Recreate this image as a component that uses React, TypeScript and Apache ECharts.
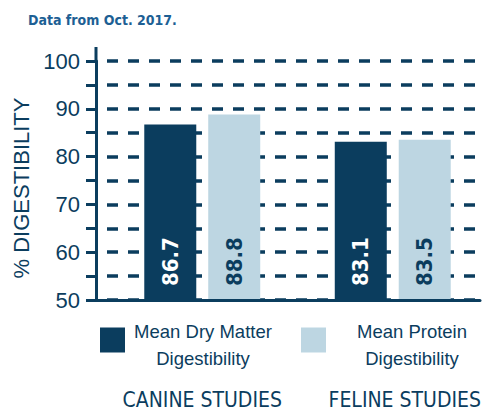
import React, { useEffect, useRef } from "react";
import * as echarts from "echarts";

const categories = ["CANINE STUDIES", "FELINE STUDIES"];
const seriesNames = ["Mean Dry Matter\nDigestibility", "Mean Protein\nDigestibility"];
const dryMatter = [86.7, 83.1];
const protein = [88.8, 83.5];
const yMin = 50;
const yMax = 100;
const yStep = 5;

const DARK = "#0b3d5e";
const LIGHT = "#bdd6e2";
const NARROW = "'DejaVu Sans Condensed', 'Liberation Sans Narrow', sans-serif";
const SANS = "'Liberation Sans', Arial, sans-serif";

export default function App() {
  const ref = useRef<HTMLDivElement>(null);
  useEffect(() => {
    if (!ref.current) return;
    const chart = echarts.init(ref.current, undefined, { renderer: "svg" });
    const barLabel = (color: string) => ({
      show: true,
      position: "insideBottom",
      rotate: 90,
      align: "left",
      verticalAlign: "middle",
      distance: 14,
      formatter: (p: any) => String(p.value),
      color,
      fontFamily: NARROW,
      fontWeight: "bold",
      fontSize: 22,
    });
    chart.setOption({
      animation: false,
      title: {
        text: "Data from Oct. 2017.",
        left: 28,
        top: 13,
        padding: 0,
        textStyle: { color: "#1d5f94", fontFamily: NARROW, fontSize: 14, fontWeight: "bold" },
      },
      graphic: [
        {
          type: "line",
          shape: { x1: 96, y1: 47, x2: 96, y2: 62 },
          style: { stroke: DARK, lineWidth: 3 },
          z: 10,
        },
      ],
      legend: {
        left: 100,
        top: 322,
        width: 420,
        padding: 0,
        itemWidth: 25,
        itemHeight: 25,
        itemGap: 25,
        icon: "rect",
        data: seriesNames,
        formatter: (name: string) => {
          const key = name === seriesNames[0] ? "a" : "b";
          return name
            .split("\n")
            .map((l) => `{${key}|${l}}`)
            .join("\n");
        },
        textStyle: {
          padding: [10, 0, 0, 0],
          rich: {
            a: { width: 146, align: "center", fontFamily: SANS, fontSize: 18.5, lineHeight: 27, color: DARK },
            b: { width: 162, align: "center", fontFamily: SANS, fontSize: 18.5, lineHeight: 27, color: DARK },
          },
        },
      },
      grid: [
        { left: 96, width: 384, top: 61, bottom: 112 },
        { left: 107, width: 386, top: 61, bottom: 112 },
      ],
      xAxis: [
        {
          type: "category",
          gridIndex: 0,
          data: categories,
          axisLine: { show: true, lineStyle: { color: DARK, width: 3 } },
          axisTick: { show: false },
          axisLabel: { show: false },
          splitLine: { show: false },
          z: 5,
        },
        {
          type: "category",
          gridIndex: 1,
          data: categories,
          axisLine: { show: false },
          axisTick: { show: false },
          axisLabel: {
            margin: 89,
            formatter: (v: string) => (v === categories[0] ? `{a|${v}}` : `{b|${v}}`),
            rich: {
              a: { fontFamily: NARROW, fontSize: 21, color: DARK },
              b: { fontFamily: NARROW, fontSize: 21, color: DARK, padding: [0, 0, 0, 24] },
            },
          },
        },
      ],
      yAxis: [
        {
          type: "value",
          gridIndex: 0,
          min: yMin,
          max: yMax,
          interval: yStep,
          name: "% DIGESTIBILITY",
          nameLocation: "middle",
          nameGap: 51,
          nameTextStyle: { fontFamily: SANS, fontSize: 22, color: DARK, padding: [0, 15, 0, 0] },
          axisLine: { show: true, lineStyle: { color: DARK, width: 3 } },
          axisTick: { show: true, length: 10, lineStyle: { color: DARK, width: 3 } },
          axisLabel: {
            margin: 16,
            fontFamily: SANS,
            fontSize: 22,
            color: DARK,
            formatter: (v: number) => (v % 10 === 0 ? String(v) : ""),
          },
          splitLine: {
            show: true,
            lineStyle: { color: DARK, width: 3.5, type: [11, 10], dashOffset: 10 },
          },
        },
        {
          type: "value",
          gridIndex: 1,
          min: yMin,
          max: yMax,
          interval: yStep,
          show: false,
          splitLine: { show: false },
        },
      ],
      series: [
        {
          name: seriesNames[0],
          type: "bar",
          xAxisIndex: 1,
          yAxisIndex: 1,
          data: dryMatter,
          barWidth: 52,
          barGap: "23%",
          itemStyle: { color: DARK },
          label: barLabel("#ffffff"),
          z: 3,
        },
        {
          name: seriesNames[1],
          type: "bar",
          xAxisIndex: 1,
          yAxisIndex: 1,
          data: protein,
          barWidth: 52,
          barGap: "23%",
          itemStyle: { color: LIGHT },
          label: barLabel(DARK),
          z: 3,
        },
      ],
    });
    return () => chart.dispose();
  }, []);
  return (
    <div
      ref={ref}
      style={{ position: "fixed", left: 0, top: 0, width: 488, height: 412, background: "#ffffff" }}
    />
  );
}
